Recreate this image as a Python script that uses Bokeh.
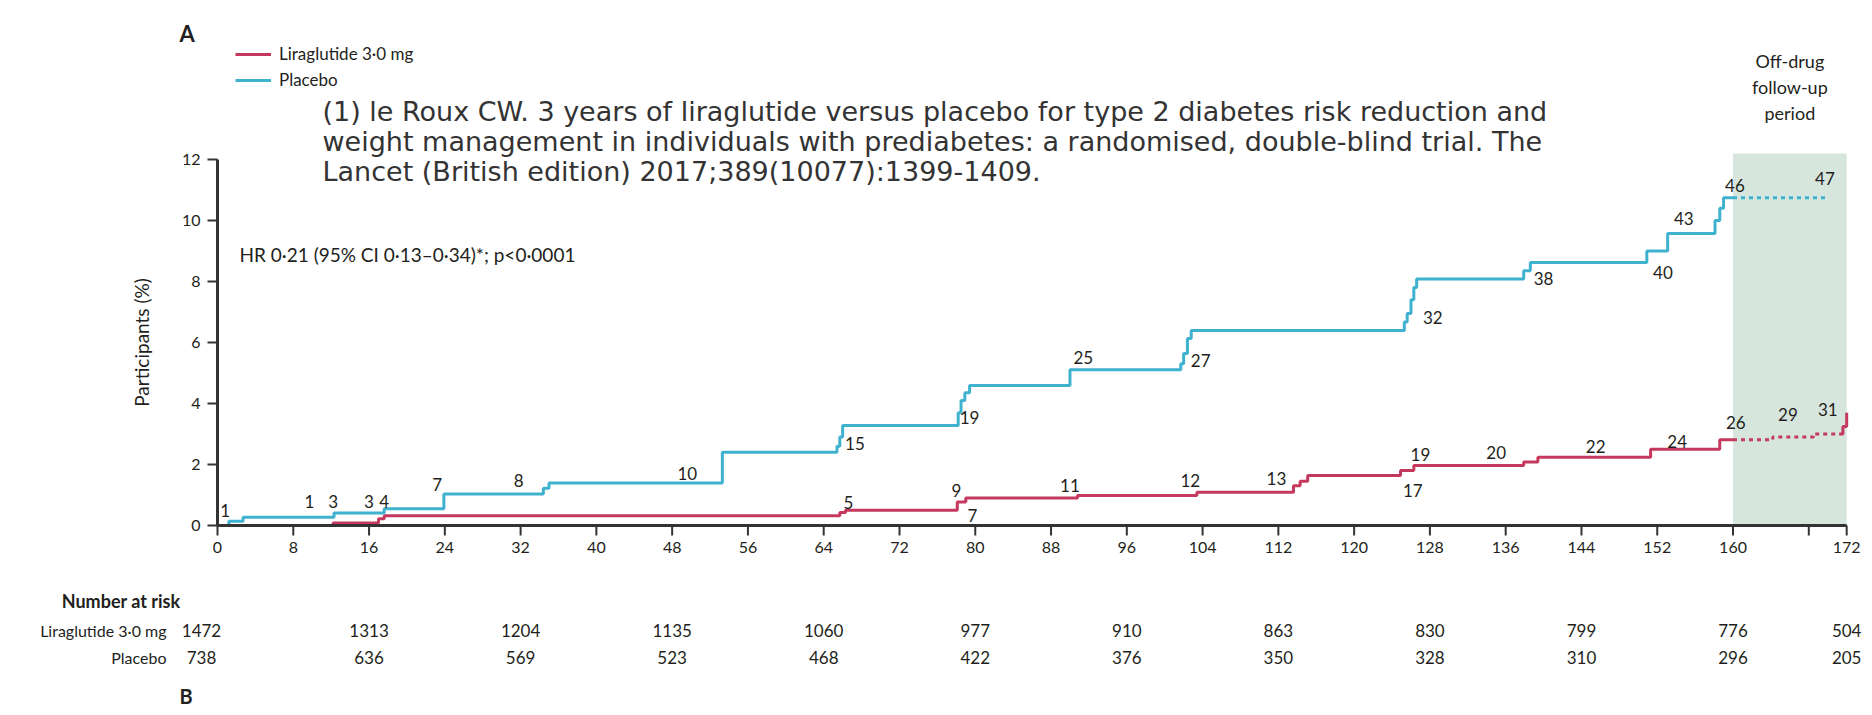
from bokeh.plotting import figure
from bokeh.models import ColumnDataSource, Range1d, Legend, LegendItem
from bokeh.core.properties import value
from bokeh.embed import file_html
from bokeh.resources import INLINE

# cumulative proportion (%) with type 2 diabetes onset, by week
placebo_wk = [0, 1.2, 2.7, 12.3, 17.6, 23.9, 34.4, 35.0, 53.3, 65.4, 65.7, 66.0,
              78.2, 78.5, 78.9, 79.4, 90.0, 101.7, 102.0, 102.4, 102.8, 125.3, 125.6,
              126.0, 126.3, 126.6, 137.9, 138.6, 150.9, 153.1, 158.1, 158.6, 159.0, 160.0]
placebo_pct = [0, 0.14, 0.27, 0.41, 0.55, 1.03, 1.22, 1.39, 2.40, 2.6, 2.9, 3.28,
               3.7, 4.1, 4.35, 4.59, 5.11, 5.3, 5.64, 6.13, 6.39, 6.67, 6.95,
               7.4, 7.8, 8.08, 8.35, 8.62, 9.0, 9.57, 10.0, 10.4, 10.75, 10.75]
placebo_off_wk = [160, 170]
placebo_off_pct = [10.75, 10.75]

lira_wk = [0, 12.2, 17.0, 17.6, 65.7, 66.3, 78.1, 79.0, 90.8, 103.4, 113.6, 114.3,
           115.1, 124.9, 126.3, 137.9, 139.4, 151.3, 158.6, 160.0]
lira_pct = [0, 0.08, 0.22, 0.32, 0.43, 0.5, 0.77, 0.9, 0.98, 1.09, 1.3, 1.45,
            1.64, 1.8, 1.97, 2.08, 2.24, 2.5, 2.81, 2.81]
lira_off_wk = [160, 164.2, 168.5, 171.2]
lira_off_pct = [2.81, 2.9, 3.0, 3.0]
lira_end_wk = [171.2, 171.6, 172.0]
lira_end_pct = [3.0, 3.25, 3.7]

# cumulative event counts printed along the curves
placebo_n = ["1", "3", "4", "7", "8", "10", "15", "19", "25", "27", "32", "38", "40", "43", "46", "47"]
placebo_n_wk = [0.8, 12.2, 17.6, 23.2, 31.8, 49.6, 67.3, 79.4, 91.4, 103.8, 128.3, 140.0, 152.6, 154.8, 160.2, 169.7]
placebo_n_pct = [0.5, 0.78, 0.78, 1.35, 1.48, 1.72, 2.68, 3.55, 5.5, 5.41, 6.83, 8.1, 8.3, 10.05, 11.15, 11.37]
lira_n = ["1", "3", "5", "9", "7", "11", "12", "13", "17", "19", "20", "22", "24", "26", "29", "31"]
lira_n_wk = [9.7, 16.0, 66.6, 78.0, 79.7, 90.0, 102.7, 111.8, 126.2, 127.0, 135.0, 145.5, 154.1, 160.3, 165.8, 170.0]
lira_n_pct = [0.78, 0.78, 0.77, 1.15, 0.33, 1.31, 1.48, 1.53, 1.15, 2.33, 2.4, 2.58, 2.74, 3.37, 3.64, 3.8]

# number at risk
risk_wk = [0, 16, 32, 48, 64, 80, 96, 112, 128, 144, 160, 172]
risk_lira = [1472, 1313, 1204, 1135, 1060, 977, 910, 863, 830, 799, 776, 504]
risk_placebo = [738, 636, 569, 523, 468, 422, 376, 350, 328, 310, 296, 205]

x_ticks = [0, 8, 16, 24, 32, 40, 48, 56, 64, 72, 80, 88, 96, 104, 112, 120, 128,
           136, 144, 152, 160, 168, 172]
x_tick_labels = [str(t) for t in x_ticks]
x_tick_labels[x_ticks.index(168)] = ""
y_ticks = [0, 2, 4, 6, 8, 10, 12]
offdrug = [160, 172]
offdrug_top = 12.2

citation = [
    "(1) le Roux CW. 3 years of liraglutide versus placebo for type 2 diabetes risk reduction and",
    "weight management in individuals with prediabetes: a randomised, double-blind trial. The",
    "Lancet (British edition) 2017;389(10077):1399-1409.",
]

FONT = "Lato"
INK = "#231f20"
BLUE = "#3fb2cf"
RED = "#c6395e"
SHADE = "#d7e6dd"
AXIS = "#333333"

W, H = 1872, 715
X0, Y0 = 217, 525          # canvas position of week 0 / 0 %
XS, YS = 9.472, 30.5       # px per week, px per percent


def wx(px):
    return (px - X0) / XS


def wy(py):
    return (Y0 - py) / YS


p = figure(width=W, height=H, x_range=Range1d(wx(0), wx(W)), y_range=Range1d(wy(H), wy(0)),
           output_backend="svg", toolbar_location=None,
           x_axis_location=None, y_axis_location=None, min_border=0)
p.outline_line_color = None
p.grid.visible = False


def txt(x, y, t, size="17px", align="left", style="normal", color=INK, font=FONT, **kw):
    src = ColumnDataSource(data=dict(x=list(x), y=list(y), t=list(t)))
    return p.text("x", "y", text="t", source=src, text_font=value(font), text_font_size=size,
                  text_align=align, text_baseline=kw.pop("baseline", "middle"),
                  text_font_style=style, text_color=color, **kw)


p.quad(left=[offdrug[0]], right=[offdrug[1]], bottom=[0], top=[offdrug_top],
       fill_color=SHADE, line_color=None)

r_lira = p.step(lira_wk, lira_pct, mode="after", line_color=RED, line_width=3)
p.step(lira_off_wk, lira_off_pct, mode="after", line_color=RED, line_width=3, line_dash="4 4")
p.step(lira_end_wk, lira_end_pct, mode="after", line_color=RED, line_width=3)
r_plac = p.step(placebo_wk, placebo_pct, mode="after", line_color=BLUE, line_width=3)
p.step(placebo_off_wk, placebo_off_pct, mode="after", line_color=BLUE, line_width=3, line_dash="4 4")

txt(placebo_n_wk + lira_n_wk, placebo_n_pct + lira_n_pct, placebo_n + lira_n,
    size="17px", align="center")

# axes (lines, ticks, labels) on the data scales
tick = 10
p.segment(x0=[0, 0], y0=[0, 0], x1=[x_ticks[-1], 0], y1=[0, y_ticks[-1]],
          line_color=AXIS, line_width=3)
p.segment(x0=x_ticks, y0=[0] * len(x_ticks), x1=x_ticks, y1=[-tick / YS] * len(x_ticks),
          line_color=AXIS, line_width=2)
p.segment(x0=[0] * len(y_ticks), y0=y_ticks, x1=[-tick / XS] * len(y_ticks), y1=y_ticks,
          line_color=AXIS, line_width=2)
txt(x_ticks, [0] * len(x_ticks), x_tick_labels, size="16px", align="center",
    baseline="top", y_offset=16)
txt([0] * len(y_ticks), y_ticks, [str(t) for t in y_ticks], size="16px", align="right",
    x_offset=-17)
txt([wx(141)], [6], ["Participants (%)"], size="19px", align="center", angle=1.5708)

legend = Legend(items=[LegendItem(label="Liraglutide 3·0 mg", renderers=[r_lira]),
                       LegendItem(label="Placebo", renderers=[r_plac])],
                location=(235, H - 90), orientation="vertical")
legend.glyph_width = 36
legend.glyph_height = 20
legend.label_height = 20
legend.spacing = 5
legend.padding = 0
legend.margin = 0
legend.label_standoff = 8
legend.border_line_color = None
legend.background_fill_alpha = 0
legend.label_text_font = FONT
legend.label_text_font_size = "17px"
legend.label_text_color = INK
p.add_layout(legend, "center")

txt([wx(179)], [wy(33)], ["A"], size="22px", style="bold")

txt([wx(322)] * 3, [wy(111), wy(141), wy(171)], citation, size="27px",
    color="#333333", font="DejaVu Sans")

txt([sum(offdrug) / 2] * 3, [wy(60), wy(86), wy(112)], ["Off-drug", "follow-up", "period"],
    size="18px", align="center")

txt([wx(239)], [wy(254)], ["HR 0·21 (95% CI 0·13–0·34)*; p<0·0001"], size="19px")

# number at risk table
txt([wx(180)], [wy(600)], ["Number at risk"], size="18px", style="bold", align="right")
for j, (name, row) in enumerate([("Liraglutide 3·0 mg", risk_lira), ("Placebo", risk_placebo)]):
    ypos = wy(630 + 27 * j)
    txt([wx(166)], [ypos], [name], size="16px", align="right")
    src = ColumnDataSource(data=dict(x=risk_wk, y=[ypos] * len(row), n=[str(v) for v in row],
                                     dx=[-16] + [0] * (len(row) - 1)))
    p.text("x", "y", text="n", x_offset="dx", source=src, text_font=value(FONT),
           text_font_size="17px", text_color=INK, text_align="center", text_baseline="middle")

# start of the next panel, at the bottom edge
txt([wx(179)], [wy(695)], ["B"], size="20px", style="bold", baseline="alphabetic")

open("out.html", "w").write(file_html(p, INLINE))
